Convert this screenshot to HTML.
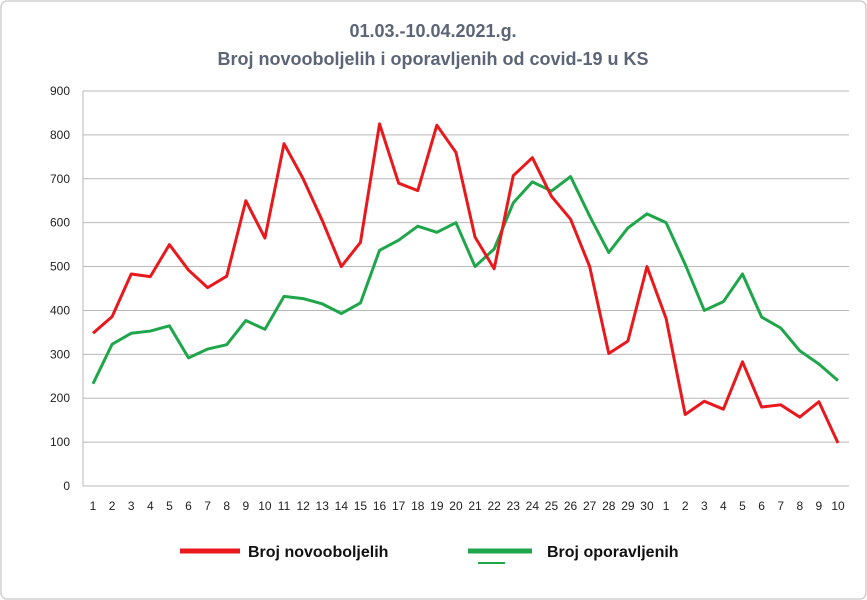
<!DOCTYPE html>
<html><head><meta charset="utf-8"><style>
body{margin:0;background:#fff;font-family:"Liberation Sans",Arial,sans-serif}
#wrap{position:relative;width:867px;height:600px;overflow:hidden}
</style></head><body>
<div id="wrap">
<svg id="svg" width="867" height="600"></svg>
</div>
<script>
const categories=["1","2","3","4","5","6","7","8","9","10","11","12","13","14","15","16","17","18","19","20","21","22","23","24","25","26","27","28","29","30","1","2","3","4","5","6","7","8","9","10"];
const newCases=[348,386,483,477,550,492,452,478,650,565,780,700,605,500,555,825,690,673,822,760,567,495,707,748,660,608,500,302,330,500,382,163,193,175,283,180,185,157,192,98];
const recovered=[233,323,348,353,365,292,312,322,377,357,432,427,415,393,417,537,560,592,578,600,500,540,645,693,672,705,615,532,588,620,600,505,400,420,483,385,360,308,278,240];
const yTicks=[0,100,200,300,400,500,600,700,800,900];
const seriesNames=["Broj novooboljelih","Broj oporavljenih"];

const NS="http://www.w3.org/2000/svg";
const svg=document.getElementById('svg');
const L=83,R=849,T=91,B=486,x0=93,x1=838;
const yS=v=>B-(v/900)*(B-T);
const xS=i=>x0+i*(x1-x0)/(categories.length-1);
function mk(tag,attrs,parent){const e=document.createElementNS(NS,tag);for(const k in attrs)e.setAttribute(k,attrs[k]);(parent||svg).appendChild(e);return e;}

const border=mk('rect',{x:1,y:1,width:865,height:598,rx:6,fill:'#fff',stroke:'#d0d0d0','stroke-width':1.5});



const t1=mk('text',{x:433,y:37,'text-anchor':'middle','font-size':18,'font-weight':'bold',fill:'#5b6577'});
t1.textContent="01.03.-10.04.2021.g.";


const t2=mk('text',{x:433,y:65,'text-anchor':'middle','font-size':18,'font-weight':'bold',fill:'#5b6577'});
t2.textContent="Broj novooboljelih i oporavljenih od covid-19 u KS";



yTicks.forEach(v=>{
  const g=mk('line',{x1:L,x2:R,y1:yS(v),y2:yS(v),stroke:'#b8b8b8','stroke-width':1});
  
  
  const tx=mk('text',{x:70,y:yS(v)+4,'text-anchor':'end','font-size':12,fill:'#222'});
  tx.textContent=v;
  
  
});
const ax=mk('line',{x1:L,x2:L,y1:T,y2:B,stroke:'#b8b8b8','stroke-width':1});



categories.forEach((c,i)=>{
  const tx=mk('text',{x:xS(i),y:510,'text-anchor':'middle','font-size':12,fill:'#222'});
  tx.textContent=c;
  
  
});

function line(data,color,name){
  const p=mk('polyline',{points:data.map((v,i)=>xS(i)+','+yS(v)).join(' '),fill:'none',stroke:color,'stroke-width':3,'stroke-linejoin':'round'});
  
  
}
line(recovered,'#1fa64b','series-recovered-line');
line(newCases,'#e8181c','series-new-cases-line');

const l1=mk('line',{x1:180,x2:240,y1:551,y2:551,stroke:'#e8181c','stroke-width':5});


const lt1=mk('text',{x:248,y:557,'font-size':16,'font-weight':'bold',fill:'#111'});
lt1.textContent=seriesNames[0];


const l2=mk('line',{x1:468,x2:532,y1:551,y2:551,stroke:'#1fa64b','stroke-width':5});


const l3=mk('line',{x1:478,x2:505,y1:563,y2:563,stroke:'#1fa64b','stroke-width':2});


const lt2=mk('text',{x:547,y:557,'font-size':16,'font-weight':'bold',fill:'#111'});
lt2.textContent=seriesNames[1];


</script>
</body></html>
